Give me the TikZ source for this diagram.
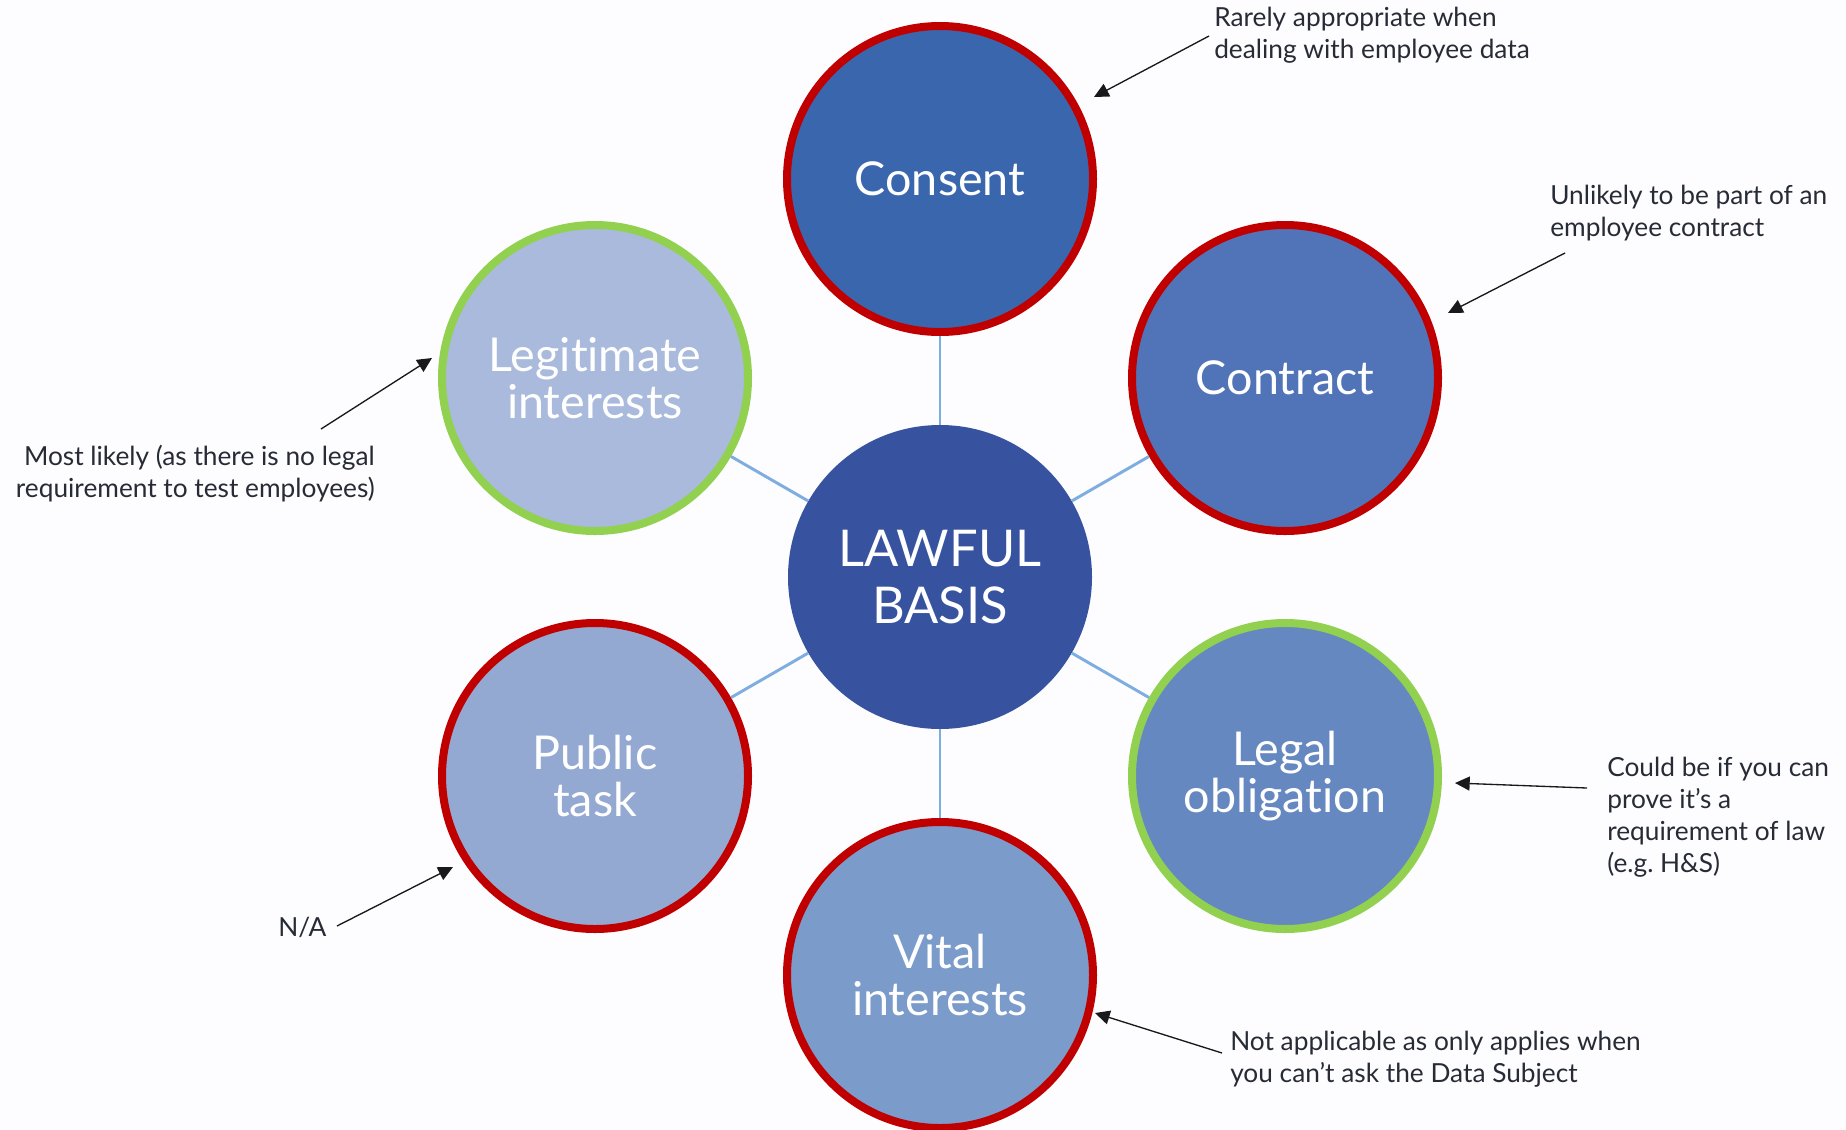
\documentclass[tikz,border=0pt]{standalone}
\usepackage{fontspec}
\setmainfont{Lato}[Ligatures=CommonOff]
\usetikzlibrary{arrows.meta}
\definecolor{bg}{HTML}{FDFCFE}
\definecolor{redc}{HTML}{C00000}
\definecolor{greenc}{HTML}{92D050}
\definecolor{hubc}{HTML}{3753A0}
\definecolor{consentc}{HTML}{3A66AE}
\definecolor{contractc}{HTML}{5174B8}
\definecolor{legalc}{HTML}{6688C0}
\definecolor{vitalc}{HTML}{7B9BCA}
\definecolor{publicc}{HTML}{93A9D2}
\definecolor{legitc}{HTML}{A9BADD}
\definecolor{connc}{HTML}{7EAEE0}
\definecolor{notec}{HTML}{262B35}
\frenchspacing
\begin{document}
\begin{tikzpicture}[x=0.75pt,y=-0.75pt,
 bubble/.style={circle, minimum size=229.5pt, inner sep=0pt, line width=6pt, text=white, align=center, font=\fontsize{35}{35}\selectfont},
 redb/.style={bubble, draw=redc},
 greenb/.style={bubble, draw=greenc},
 hub/.style={circle, minimum size=228pt, inner sep=0pt, fill=hubc, text=white, align=center, font=\fontsize{38}{42.5}\selectfont},
 conn/.style={draw=connc, line width=2.2pt},
 note/.style={inner sep=0pt, text=notec, font=\fontsize{19.7}{24}\selectfont},
 pointer/.style={draw=black!90, line width=1pt, -{Triangle[length=11pt,width=10.5pt]}}
]
\useasboundingbox (0,0) rectangle (1846,1129);
\fill[bg] (0,0) rectangle (1846,1129);

\node[hub] (hub) at (940,577) {LAWFUL\\BASIS};
\node[redb, fill=consentc] (consent) at (940,179) {Consent};
\node[redb, fill=contractc] (contract) at (1285,378) {Contract};
\node[greenb, fill=legalc] (legal) at (1285,776) {Legal\\obligation};
\node[redb, fill=vitalc] (vital) at (940,975) {Vital\\interests};
\node[redb, fill=publicc] (public) at (595,776) {Public\\task};
\node[greenb, fill=legitc] (legit) at (595,378) {Legitimate\\interests};

\draw[conn] (hub) -- (consent);
\draw[conn] (hub) -- (contract);
\draw[conn] (hub) -- (legal);
\draw[conn] (hub) -- (vital);
\draw[conn] (hub) -- (public);
\draw[conn] (hub) -- (legit);

\node[note, anchor=west, align=left] (n1) at (1214,35) {Rarely appropriate when\\dealing with employee data};
\node[note, anchor=west, align=left] (n2) at (1550,213) {Unlikely to be part of an\\employee contract};
\node[note, anchor=east, align=right] (n3) at (375,474) {Most likely (as there is no legal\\requirement to test employees)};
\node[note, anchor=west, align=left] (n4) at (1607,817) {Could be if you can\\prove it’s a\\requirement of law\\(e.g. H\&S)};
\node[note, anchor=west] (n5) at (278,927) {N/A};
\node[note, anchor=west, align=left] (n6) at (1230,1059) {Not applicable as only applies when\\you can’t ask the Data Subject};

\coordinate (s1) at (1209,36);  \coordinate (t1) at (1094,97);
\coordinate (s2) at (1565,253); \coordinate (t2) at (1448,313);
\coordinate (s3) at (321,429);  \coordinate (t3) at (432,358);
\coordinate (s4) at (1587,788); \coordinate (t4) at (1455,783);
\coordinate (s5) at (337,926);  \coordinate (t5) at (453,867);
\coordinate (s6) at (1222,1053); \coordinate (t6) at (1095,1013);

\draw[pointer] (s1) -- (t1);
\draw[pointer] (s2) -- (t2);
\draw[pointer] (s3) -- (t3);
\draw[pointer] (s4) -- (t4);
\draw[pointer] (s5) -- (t5);
\draw[pointer] (s6) -- (t6);
\end{tikzpicture}
\end{document}
